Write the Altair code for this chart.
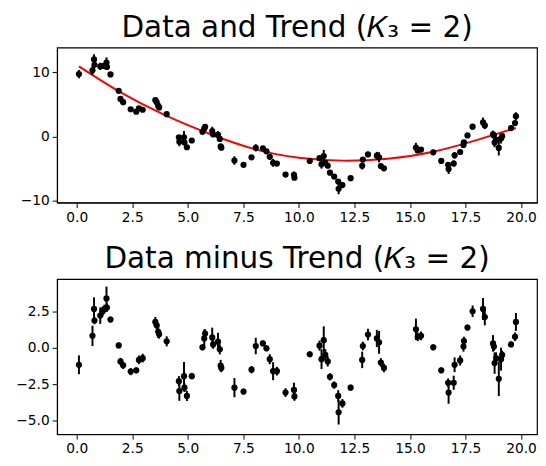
import altair as alt
import pandas as pd

# x positions of the observations
x = [0.10, 0.71, 0.78, 0.80, 1.06, 1.16, 1.25, 1.34, 1.36, 1.52,
     1.89, 1.97, 2.09, 2.43, 2.68, 2.80, 2.97, 3.54, 3.60, 3.67,
     3.71, 4.05, 4.60, 4.62, 4.83, 4.85, 4.96, 5.18, 5.66, 5.74,
     5.78, 6.10, 6.14, 6.36, 6.44, 6.48, 6.51, 7.10, 7.51, 7.87,
     8.06, 8.38, 8.54, 8.69, 8.84, 9.01, 9.40, 9.78, 9.80, 10.49,
     10.93, 11.02, 11.12, 11.19, 11.30, 11.40, 11.59, 11.77, 11.79, 11.96,
     12.33, 12.85, 12.88, 13.11, 13.51, 13.61, 13.69, 13.83, 15.27, 15.35,
     15.50, 16.05, 16.41, 16.72, 16.74, 16.97, 17.01, 17.26, 17.41, 17.43,
     17.59, 17.82, 18.29, 18.37, 18.74, 18.78, 18.81, 18.88, 19.00, 19.10,
     19.15, 19.55, 19.73, 19.77]

# observed data values (top panel)
y_data = [9.75, 10.34, 12.04, 11.20, 10.96, 11.02, 11.01, 11.55, 10.87, 9.71,
          7.15, 5.88, 5.37, 4.27, 3.89, 4.39, 4.19, 5.69, 5.35, 4.78,
          4.55, 3.50, -0.11, -0.82, -0.11, -0.93, -1.66, -0.61, 0.74, 1.24,
          1.53, 0.86, 0.33, 0.26, -0.36, -1.54, -1.73, -3.73, -4.41, -3.23,
          -1.75, -1.83, -2.30, -3.16, -4.09, -4.21, -5.93, -5.96, -6.42, -3.81,
          -3.37, -4.32, -3.04, -4.08, -4.55, -5.63, -6.24, -7.02, -8.15, -7.56,
          -6.49, -4.56, -3.59, -2.78, -2.98, -3.23, -4.60, -4.95, -1.70, -2.17,
          -2.02, -2.46, -3.79, -4.41, -5.07, -4.20, -2.92, -2.40, -1.30, -0.90,
          0.19, 1.55, 2.21, 1.74, 0.36, 0.19, -0.92, -0.49, -1.77, -0.29,
          0.07, 1.33, 2.11, 3.18]

# data minus trend (bottom panel)
resid = [-1.16, 0.84, 2.70, 1.90, 2.24, 2.52, 2.70, 3.43, 2.80, 1.97,
         0.18, -0.93, -1.20, -1.63, -1.54, -0.82, -0.70, 1.80, 1.57, 1.12,
         0.95, 0.46, -2.29, -2.97, -1.95, -2.74, -3.31, -1.95, 0.05, 0.66,
         1.00, 0.73, 0.25, 0.44, -0.09, -1.22, -1.38, -2.74, -3.01, -1.50,
         0.14, 0.32, -0.02, -0.77, -1.60, -1.60, -3.08, -2.90, -3.35, -0.43,
         0.16, -0.77, 0.54, -0.48, -0.93, -1.99, -2.56, -3.31, -4.44, -3.83,
         -2.74, -0.82, 0.14, 0.93, 0.66, 0.39, -1.00, -1.38, 1.29, 0.78,
         0.84, 0.05, -1.54, -2.40, -3.08, -2.40, -1.16, -0.86, 0.10, 0.48,
         1.41, 2.54, 2.70, 2.14, 0.32, 0.10, -1.04, -0.70, -2.13, -0.77,
         -0.48, 0.25, 0.78, 1.80]

# 1-sigma uncertainties
err = [0.65, 0.70, 0.80, 0.25, 0.57, 0.30, 0.30, 0.82, 0.30, 0.20,
       0.20, 0.25, 0.25, 0.25, 0.20, 0.30, 0.30, 0.35, 0.30, 0.43,
       0.30, 0.35, 0.35, 0.68, 0.99, 0.30, 0.35, 0.20, 0.20, 0.62,
       0.30, 0.68, 0.30, 0.61, 0.35, 0.40, 0.30, 0.66, 0.20, 0.25,
       0.57, 0.20, 0.20, 0.35, 0.62, 0.30, 0.30, 0.50, 0.30, 0.20,
       0.35, 0.68, 0.96, 0.40, 0.35, 0.25, 0.25, 0.40, 0.85, 0.30,
       0.20, 0.57, 0.30, 0.40, 0.60, 0.79, 0.30, 0.30, 0.74, 0.30,
       0.30, 0.20, 0.20, 0.30, 0.77, 0.49, 0.51, 0.35, 0.35, 0.30,
       0.20, 0.40, 0.76, 0.57, 0.57, 0.30, 0.74, 0.40, 1.19, 0.79,
       0.30, 0.20, 0.30, 0.62]

# red trend curve
trend_x = [0.10, 2.0, 4.0, 6.0, 8.0, 10.0, 12.0, 14.0, 16.0, 18.0, 19.77]
trend_y = [10.95, 6.85, 3.30, 0.40, -1.95, -3.30, -3.75, -3.45, -2.40, -0.55, 1.35]

x_ticks = [0.0, 2.5, 5.0, 7.5, 10.0, 12.5, 15.0, 17.5, 20.0]
top_ticks = [-10, -5, 0, 5, 10]
bot_ticks = [-5.0, -2.5, 0.0, 2.5]

df = pd.DataFrame({"x": x, "y": y_data, "r": resid, "e": err})
df["ylo"] = df["y"] - df["e"]
df["yhi"] = df["y"] + df["e"]
df["rlo"] = df["r"] - df["e"]
df["rhi"] = df["r"] + df["e"]
tdf = pd.DataFrame({"x": trend_x, "t": trend_y})

W, H = 489, 158
FONT = "DejaVu Sans"

def xax():
    return alt.Axis(values=x_ticks, format=".1f", title=None, grid=False,
                    tickSize=5, labelFontSize=14, labelPadding=3, labelFont=FONT,
                    tickColor="black", domainColor="black", labelColor="black")

def yax(vals, fmt):
    return alt.Axis(values=vals, format=fmt, title=None, grid=False,
                    tickSize=5, labelFontSize=14, labelPadding=3, labelFont=FONT,
                    tickColor="black", domainColor="black", labelColor="black",
                    minExtent=41, maxExtent=41)

xs = alt.Scale(domain=[-0.884, 20.72], nice=False, zero=False)
ys_top = alt.Scale(domain=[-10.3, 13.9], nice=False, zero=False)
ys_bot = alt.Scale(domain=[-5.96, 4.76], nice=False, zero=False)

def title(t):
    return alt.TitleParams(text=t, fontSize=30, font=FONT, fontWeight="normal",
                           anchor="middle", offset=5, color="black")

base = alt.Chart(df)

top_line = alt.Chart(tdf).mark_line(color="red", strokeWidth=2, interpolate="natural").encode(
    x=alt.X("x:Q", scale=xs, axis=xax()),
    y=alt.Y("t:Q", scale=ys_top, axis=yax(top_ticks, "d")),
)
top_err = base.mark_rule(color="black", strokeWidth=2).encode(
    x=alt.X("x:Q", scale=xs), y=alt.Y("ylo:Q", scale=ys_top), y2="yhi:Q")
top_pts = base.mark_circle(color="black", size=40, opacity=1).encode(
    x=alt.X("x:Q", scale=xs), y=alt.Y("y:Q", scale=ys_top))

top = alt.layer(top_line, top_err, top_pts).properties(
    width=W, height=H, title=title("Data and Trend (𝐾₃ = 2)"))

bot_err = base.mark_rule(color="black", strokeWidth=2).encode(
    x=alt.X("x:Q", scale=xs, axis=xax()),
    y=alt.Y("rlo:Q", scale=ys_bot, axis=yax(bot_ticks, ".1f")), y2="rhi:Q")
bot_pts = base.mark_circle(color="black", size=40, opacity=1).encode(
    x=alt.X("x:Q", scale=xs), y=alt.Y("r:Q", scale=ys_bot))

bot = alt.layer(bot_err, bot_pts).properties(
    width=W, height=H, title=title("Data minus Trend (𝐾₃ = 2)"))

chart = alt.vconcat(top, bot, spacing=19).properties(
    padding={"left": 7, "top": 0, "right": 0, "bottom": 0},
    background="white",
).configure_view(stroke="black", strokeWidth=1.2)

chart.save("out.html", embed_options={"renderer": "svg", "actions": False})
